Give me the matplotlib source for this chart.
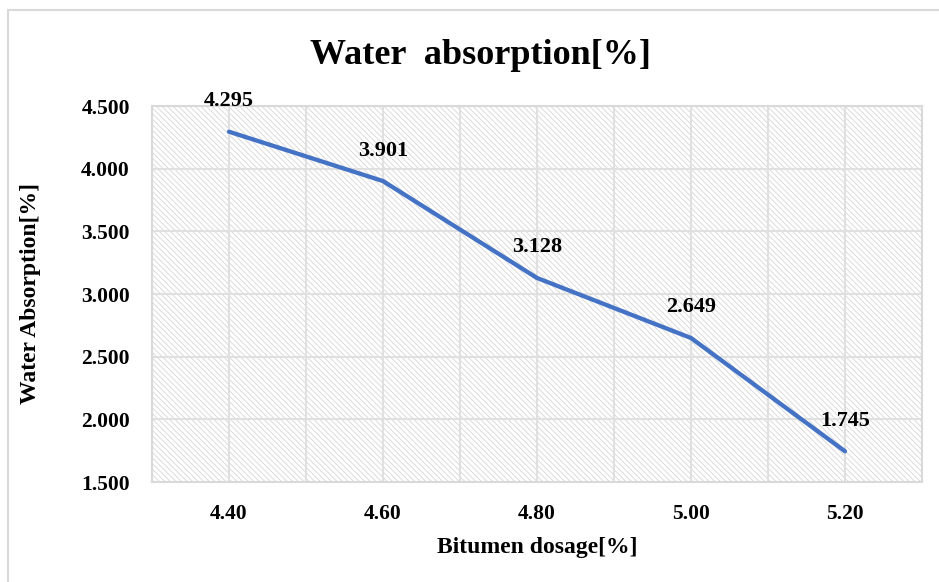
import numpy as np
import matplotlib
matplotlib.use('Agg')
import matplotlib.pyplot as plt
from matplotlib.patches import Rectangle

# Chart data
dosage_labels = ['4.40', '4.60', '4.80', '5.00', '5.20']
absorption = [4.295, 3.901, 3.128, 2.649, 1.745]
y_ticks = [1.5, 2.0, 2.5, 3.0, 3.5, 4.0, 4.5]

plt.rcParams['font.family'] = ['Liberation Serif', 'DejaVu Serif']
plt.rcParams['font.weight'] = 'bold'
plt.rcParams['hatch.color'] = '#d6d6d6'
plt.rcParams['hatch.linewidth'] = 0.6

fig = plt.figure(figsize=(9.39, 5.82), dpi=100)
ax = fig.add_axes([152 / 939, 100 / 582, 770 / 939, 376 / 582])

# outer chart border (only top/left visible in the crop)
fig.patches.append(Rectangle((8 / 939, -0.1), 1.2, 1.1 - 10 / 582,
                             transform=fig.transFigure, fill=False,
                             edgecolor='#d9d9d9', linewidth=1.5))

x = np.arange(len(dosage_labels))
ax.set_xlim(-0.5, len(dosage_labels) - 0.5)
ax.set_ylim(1.5, 4.5)

# hatched plot area
ax.add_patch(Rectangle((0, 0), 1, 1, transform=ax.transAxes, facecolor='white',
                       hatch='\\\\\\\\\\\\', edgecolor='#d6d6d6', linewidth=0, zorder=0))

# gridlines at category centres and boundaries
for gx in np.arange(-0.5, len(dosage_labels), 0.5):
    ax.axvline(gx, color='#e0e0e0', linewidth=1.5, zorder=1)
for gy in y_ticks:
    ax.axhline(gy, color='#e0e0e0', linewidth=1.5, zorder=1)

ax.plot(x, absorption, color='#4472C4', linewidth=3.1, solid_capstyle='round', zorder=3)

for xi, yi in zip(x, absorption):
    ax.annotate(f'{yi:.3f}', (xi, yi), xytext=(0, 22), textcoords='offset points',
                ha='center', va='center', fontsize=16, fontweight='bold', zorder=4)

ax.set_xticks(x)
ax.set_xticklabels(dosage_labels)
ax.set_yticks(y_ticks)
ax.set_yticklabels([f'{v:.3f}' for v in y_ticks])
ax.tick_params(length=0, labelsize=15.5)
ax.tick_params(axis='x', pad=16)
ax.tick_params(axis='y', pad=16)
for s in ax.spines.values():
    s.set_color('#d9d9d9')
    s.set_linewidth(1.5)

fig.text(480 / 939, 1 - 55 / 582, 'Water  absorption[%]', ha='center', va='center',
         fontsize=26, fontweight='bold')
fig.text(537 / 939, 1 - 548 / 582, 'Bitumen dosage[%]', ha='center', va='center',
         fontsize=17, fontweight='bold')
fig.text(31 / 939, 1 - 294 / 582, 'Water Absorption[%]', ha='center', va='center',
         rotation=90, fontsize=17, fontweight='bold')

fig.savefig('out.png', dpi=100)
